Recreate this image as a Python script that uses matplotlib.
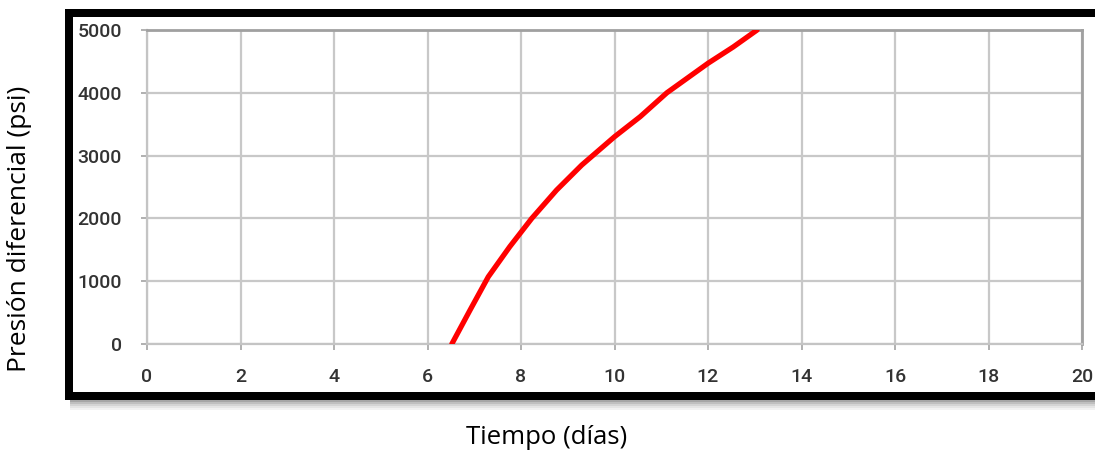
import matplotlib
matplotlib.use("Agg")
import matplotlib.pyplot as plt
from matplotlib.patches import Rectangle

# Data
tiempo = [6.52, 6.91, 7.30, 7.76, 8.23, 8.76, 9.30, 10.0, 10.55, 11.12, 12.0, 12.54, 13.05]
presion = [0, 540, 1070, 1550, 2000, 2450, 2850, 3300, 3620, 4000, 4470, 4730, 5000]
x_ticks = [0, 2, 4, 6, 8, 10, 12, 14, 16, 18, 20]
y_ticks = [0, 1000, 2000, 3000, 4000, 5000]
x_label = "Tiempo (días)"
y_label = "Presión diferencial (psi)"

W, H = 1095, 451
fig = plt.figure(figsize=(W / 100, H / 100), dpi=100)
fig.patch.set_facecolor("white")

def fx(px):
    return px / W

def fy(py):
    return 1 - py / H

# shadow of the frame
for i, a in enumerate([0.35, 0.25, 0.17, 0.10, 0.05]):
    fig.patches.append(Rectangle((fx(70), fy(400 + 2 * (i + 1))), fx(1100) - fx(70), 2 / H,
                                 transform=fig.transFigure, facecolor="black", alpha=a,
                                 edgecolor="none", zorder=0))

# thick black frame (left, top, bottom bands; cut off at right edge)
frame_color = "black"
fig.patches.append(Rectangle((fx(65), fy(400)), fx(8), 391 / H, transform=fig.transFigure,
                             facecolor=frame_color, edgecolor="none", zorder=1))
fig.patches.append(Rectangle((fx(65), fy(17)), fx(1100) - fx(65), 8 / H, transform=fig.transFigure,
                             facecolor=frame_color, edgecolor="none", zorder=1))
fig.patches.append(Rectangle((fx(65), fy(400)), fx(1100) - fx(65), 8 / H, transform=fig.transFigure,
                             facecolor=frame_color, edgecolor="none", zorder=1))

ax = fig.add_axes([fx(147), fy(344), fx(1082) - fx(147), fy(30) - fy(344)])
ax.set_facecolor("white")
ax.plot(tiempo, presion, color="#ff0000", lw=3.8, solid_capstyle="round",
        solid_joinstyle="round", zorder=3)
ax.set_xlim(0, 20)
ax.set_ylim(0, 5000)
ax.set_xticks(x_ticks)
ax.set_yticks(y_ticks)
ax.grid(True, color="#c8c8c8", lw=1.6)
ax.set_axisbelow(True)
for s in ["left", "bottom"]:
    ax.spines[s].set_color("#c4c4c4")
    ax.spines[s].set_linewidth(1.6)
for s in ["top", "right"]:
    ax.spines[s].set_color("#a0a0a0")
    ax.spines[s].set_linewidth(2.0)
ax.tick_params(axis="both", direction="out", length=4.5, width=1.4, color="#b0b0b0",
               labelcolor="#333333", labelsize=14)
ax.tick_params(axis="x", pad=12.5)
ax.tick_params(axis="y", pad=13.5)
for lab in ax.get_xticklabels() + ax.get_yticklabels():
    lab.set_family(["Roboto", "DejaVu Sans"])
    lab.set_fontweight("medium")

fig.text(fx(20), fy(229), y_label, rotation=90, ha="center", va="center",
         fontsize=19, family="Open Sans", color="black")
fig.text(fx(547), fy(437), x_label, ha="center", va="center",
         fontsize=18.5, family="Open Sans", color="black")

fig.savefig("out.png", dpi=100, facecolor="white")
